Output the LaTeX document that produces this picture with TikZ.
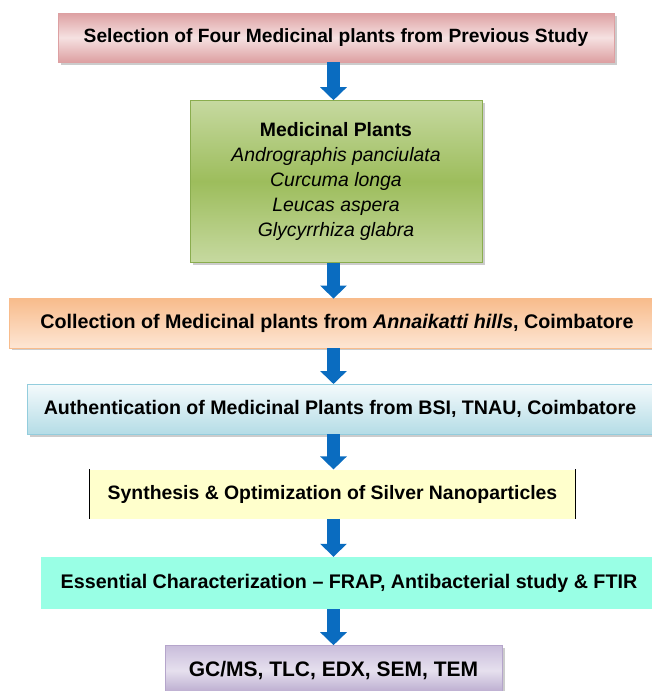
\documentclass[tikz,border=0pt]{standalone}
\usepackage{fontspec}
\setmainfont{Liberation Sans}
\usepackage{xcolor}
\usepackage{tikz}
\usetikzlibrary{positioning, shadows, arrows.meta}

\definecolor{pinkedge}{HTML}{DDA0A2}
\definecolor{pinkmid}{HTML}{F5E1E1}
\definecolor{greenedge}{HTML}{8AAD4E}
\definecolor{greenlight}{HTML}{C6D9A0}
\definecolor{greenmid}{HTML}{9DBD5C}
\definecolor{orangetop}{HTML}{F8BC8C}
\definecolor{orangebot}{HTML}{FDE6D4}
\definecolor{bluetop}{HTML}{F4FAFC}
\definecolor{bluebot}{HTML}{B4DCE6}
\definecolor{blueedge}{HTML}{93CDDD}
\definecolor{paleyellow}{HTML}{FFFFCC}
\definecolor{aqua}{HTML}{99FFE5}
\definecolor{lilactop}{HTML}{C9BDDB}
\definecolor{lilacmid}{HTML}{E6E0EE}
\definecolor{lilacbot}{HTML}{B5A5CB}
\definecolor{arrowblue}{HTML}{0A6CC0}

\newcommand{\species}[1]{{\mdseries\itshape #1}}

\begin{document}
\begin{tikzpicture}[node distance = 36pt]
            \tikzstyle{stage} = [rectangle, inner sep=0pt, align=center, minimum height=49pt, font=\fontsize{19.4}{25}\selectfont\bfseries]
            \tikzstyle{boxshadow} = [drop shadow={shadow xshift=2.5pt, shadow yshift=-2.5pt, fill=black!40, opacity=0.5}]
            \tikzstyle{flow} = [line width=13pt, draw=arrowblue, -{Triangle[width=26pt, length=13pt]}]

            \path [use as bounding box, clip] (0,0) rectangle (652pt,-691pt);

            \node [stage, boxshadow, minimum width=556pt, draw=pinkedge, top color=pinkedge, bottom color=pinkedge, middle color=pinkmid, font=\fontsize{19.2}{25}\selectfont\bfseries] (S0) at (336pt,-37.5pt) {Selection of Four Medicinal plants from Previous Study};

            \node [stage, boxshadow, below = 38pt of S0, minimum width=292pt, minimum height=162pt, draw=greenedge, top color=greenlight, bottom color=greenlight, middle color=greenmid] (S1) {Medicinal Plants\\ \species{Andrographis panciulata}\\ \species{Curcuma longa}\\ \species{Leucas aspera}\\ \species{Glycyrrhiza glabra}};

            \node [stage, boxshadow, below = of S1, xshift=1pt, minimum width=656pt, draw=orangetop, top color=orangetop, bottom color=orangebot, font=\fontsize{19.7}{25}\selectfont\bfseries] (S2) {Collection of Medicinal plants from \textit{Annaikatti hills}, Coimbatore};

            \node [stage, boxshadow, below = of S2, xshift=3pt, minimum width=626pt, minimum height=50pt, draw=blueedge, top color=bluetop, bottom color=bluebot, font=\fontsize{19.6}{25}\selectfont\bfseries] (S3) {Authentication of Medicinal Plants from BSI, TNAU, Coimbatore};

            \node [stage, below = 35pt of S3, xshift=-7.5pt, minimum width=485pt, fill=paleyellow] (S4) {Synthesis \& Optimization of Silver Nanoparticles};
            \draw [line width=1.3pt] (S4.north west) -- (S4.south west);
            \draw [line width=1.3pt] (S4.north east) -- (S4.south east);

            \node [stage, below = 38pt of S4, xshift=16.5pt, minimum width=616pt, minimum height=52pt, fill=aqua, font=\fontsize{19.7}{25}\selectfont\bfseries] (S5) {Essential Characterization -- FRAP, Antibacterial study \& FTIR};

            \node [stage, boxshadow, below = of S5, xshift=-15.5pt, minimum width=337pt, minimum height=50pt, draw=lilacbot, top color=lilactop, bottom color=lilacbot, middle color=lilacmid, font=\fontsize{21}{25}\selectfont\bfseries] (S6) {GC/MS, TLC, EDX, SEM, TEM};

            \foreach \a/\b in {S0/S1, S1/S2, S2/S3, S3/S4, S4/S5, S5/S6}
                \draw [flow] (\a.south -| S6) -- (\b.north -| S6);
        \end{tikzpicture}
\end{document}
